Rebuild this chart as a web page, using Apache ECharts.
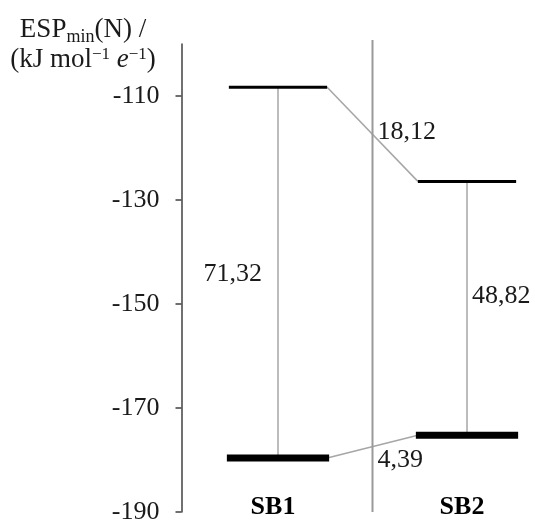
<!DOCTYPE html>
<html>
<head>
<meta charset="utf-8">
<script src="https://cdn.jsdelivr.net/npm/echarts@6/dist/echarts.min.js"></script>
<style>
  html, body { margin: 0; padding: 0; background: #fff; }
  #chart { width: 535px; height: 522px; }
</style>
</head>
<body>
<div id="chart"></div>
<script>
// data
var categories = ['SB1', 'SB2'];
var upperLevel = [-108.3, -126.42];   // ESPmin(N), upper state
var lowerLevel = [-179.62, -175.24];  // ESPmin(N), lower state
var gapLabels = ['71,32', '48,82'];
var shiftLabels = ['18,12', '4,39'];
var tickValues = [-190, -170, -150, -130, -110];

var serif = '"Liberation Serif", "Times New Roman", serif';
var chart = echarts.init(document.getElementById('chart'), null, { renderer: 'canvas' });

// vertical level diagram per category
function renderLevels(params, api) {
  var i = params.dataIndex;
  var top = api.coord([api.value(0), api.value(1)]);
  var bot = api.coord([api.value(0), api.value(2)]);
  var band = api.size([1, 0])[0];
  var half = band * 0.26;
  var midY = (top[1] + bot[1]) / 2;
  var children = [
    { type: 'line', shape: { x1: top[0], y1: top[1], x2: bot[0], y2: bot[1] }, style: { stroke: '#a6a6a6', lineWidth: 1.5 } },
    { type: 'rect', shape: { x: top[0] - half, y: top[1] - 1.5, width: half * 2, height: 3 }, style: { fill: '#000' } },
    { type: 'rect', shape: { x: bot[0] - half - 2, y: bot[1] - 3.5, width: half * 2 + 4, height: 7 }, style: { fill: '#000' } },
    {
      type: 'text',
      x: i === 0 ? top[0] - 16 : top[0] + 5,
      y: i === 0 ? midY + 2 : midY - 12,
      style: {
        text: gapLabels[i], fill: '#1a1a1a', font: '26px ' + serif,
        align: i === 0 ? 'right' : 'left', verticalAlign: 'middle'
      }
    }
  ];
  if (i > 0) {
    // separator between the two categories
    var sx = top[0] - band / 2;
    children.unshift({
      type: 'line',
      shape: { x1: sx, y1: params.coordSys.y - 4, x2: sx, y2: params.coordSys.y + params.coordSys.height },
      style: { stroke: '#9a9a9a', lineWidth: 2 }
    });
  }
  return { type: 'group', children: children };
}

// connectors from SB1 to SB2 levels
function renderShifts(params, api) {
  var p1 = api.coord([api.value(0), api.value(1)]);
  var p2 = api.coord([api.value(2), api.value(3)]);
  var band = api.size([1, 0])[0];
  var half = band * 0.26;
  var mx = (p1[0] + p2[0]) / 2;
  var my = (p1[1] + p2[1]) / 2;
  return {
    type: 'group',
    children: [
      { type: 'line', shape: { x1: p1[0] + half, y1: p1[1], x2: p2[0] - half, y2: p2[1] }, style: { stroke: '#a6a6a6', lineWidth: 1.5 } },
      {
        type: 'text', x: mx + 5, y: p2[1] > p1[1] ? my - 2 : my + 14,
        style: { text: shiftLabels[params.dataIndex], fill: '#1a1a1a', font: '26px ' + serif, align: 'left', verticalAlign: 'middle' }
      }
    ]
  };
}

var levelData = categories.map(function (c, i) {
  return [i, upperLevel[i], lowerLevel[i]];
});
var shiftData = [
  [0, upperLevel[0], 1, upperLevel[1]],
  [0, lowerLevel[0], 1, lowerLevel[1]]
];

var option = {
  animation: false,
  backgroundColor: '#fff',
  // grid runs past the right edge, like the cropped original
  grid: { left: 183.5, top: 44, width: 378, height: 468, outerBoundsMode: 'none', containLabel: false },
  xAxis: {
    type: 'category',
    data: categories,
    axisLine: { show: false },
    axisTick: { show: false },
    splitLine: { show: false },
    axisLabel: {
      margin: -5,
      verticalAlign: 'middle',
      padding: [0, 10, 0, 0],
      fontFamily: serif, fontSize: 26, fontWeight: 'bold', color: '#000'
    }
  },
  yAxis: {
    type: 'value',
    min: -190,
    max: -100,
    offset: 2,
    axisLine: { show: true, lineStyle: { color: '#404040', width: 1.5 } },
    axisTick: { show: true, length: 6, customValues: tickValues, lineStyle: { color: '#404040', width: 1.5 } },
    splitLine: { show: false },
    axisLabel: {
      customValues: tickValues,
      margin: 22,
      fontFamily: serif, fontSize: 26, color: '#1a1a1a'
    }
  },
  graphic: [{
    type: 'text',
    x: 83, y: 16,
    style: {
      text: '{n|ESP}{sub|min}{n|(N) /}\n{n|(kJ mol}{sup|\u22121}{i| e}{sup|\u22121}{n|)}',
      align: 'center',
      verticalAlign: 'top',
      fill: '#1a1a1a',
      rich: {
        n: { fontFamily: serif, fontSize: 27, lineHeight: 30, verticalAlign: 'top', color: '#1a1a1a' },
        i: { fontFamily: serif, fontSize: 27, fontStyle: 'italic', lineHeight: 30, verticalAlign: 'top', color: '#1a1a1a' },
        sub: { fontFamily: serif, fontSize: 18, lineHeight: 2, verticalAlign: 'bottom', color: '#1a1a1a' },
        sup: { fontFamily: serif, fontSize: 17, lineHeight: 14, verticalAlign: 'top', color: '#1a1a1a' }
      }
    }
  }],
  series: [
    { type: 'custom', name: 'shift', renderItem: renderShifts, data: shiftData, silent: true },
    { type: 'custom', name: 'levels', renderItem: renderLevels, data: levelData, silent: true }
  ]
};

chart.setOption(option);
</script>
</body>
</html>
